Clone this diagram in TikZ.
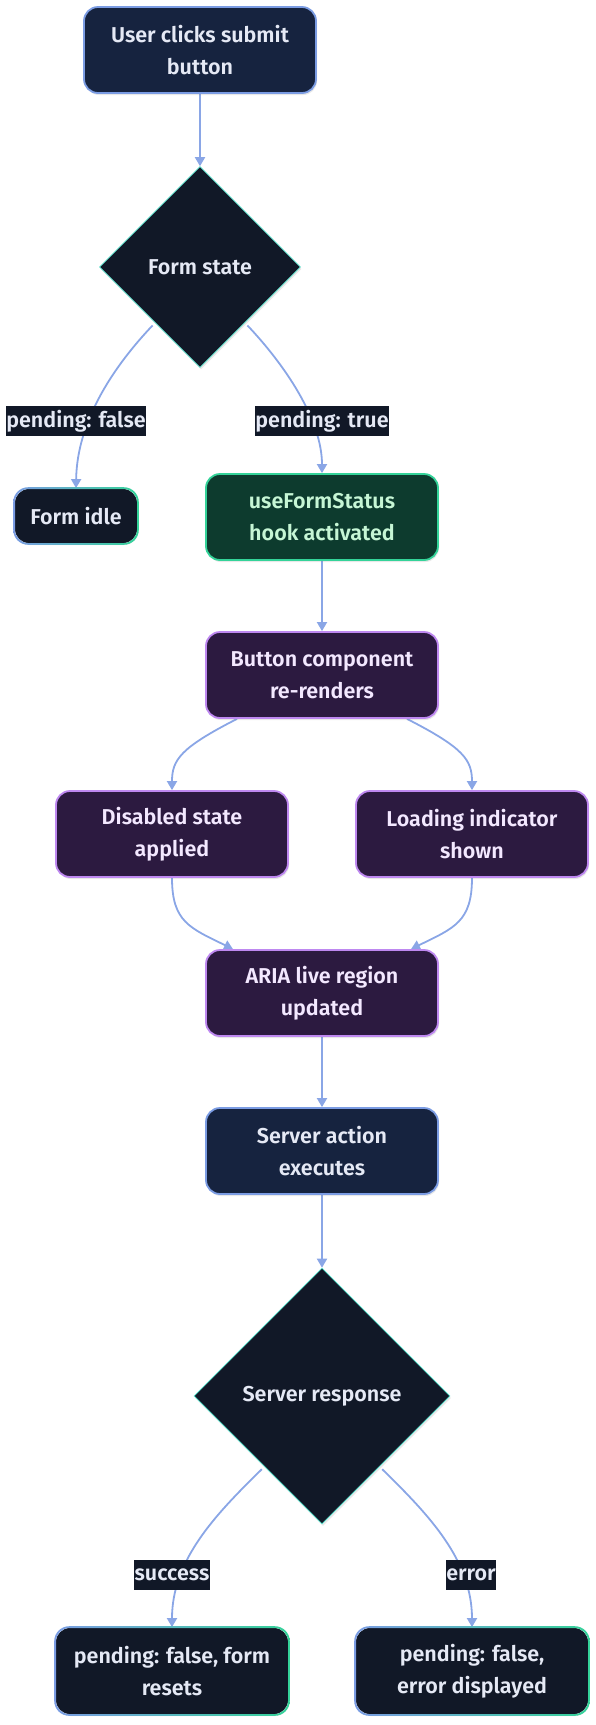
\documentclass[tikz,border=0pt]{standalone}
\usepackage{fontspec}
\setmainfont{Fira Sans}[UprightFont={* SemiBold},BoldFont={* Bold}]
\usetikzlibrary{shapes.geometric,arrows.meta,shadows}
\definecolor{edgec}{HTML}{8AA6E6}
\definecolor{navy}{HTML}{16233F}
\definecolor{bblue}{HTML}{7B9CE3}
\definecolor{dark}{HTML}{111827}
\definecolor{teal}{HTML}{5EEAD4}
\definecolor{bgreen}{HTML}{34D399}
\definecolor{gfill}{HTML}{0D3B2E}
\definecolor{gtext}{HTML}{C6F6D5}
\definecolor{pfill}{HTML}{2C1A40}
\definecolor{pborder}{HTML}{BE88F0}
\definecolor{ptext}{HTML}{F3E8FF}
\definecolor{ltext}{HTML}{E5E9F5}
\newcommand{\fsz}{\fontsize{21.5}{32}\selectfont}
\newcommand{\gradborder}[1]{%
  \shade[left color=bblue, right color=bgreen, even odd rule, rounded corners=15pt]
    ([shift={(-0.9pt,-0.9pt)}]#1.south west) rectangle ([shift={(0.9pt,0.9pt)}]#1.north east)
    [rounded corners=13.2pt]
    ([shift={(0.9pt,0.9pt)}]#1.south west) rectangle ([shift={(-0.9pt,-0.9pt)}]#1.north east);}
\pgfdeclarelayer{edges}
\pgfsetlayers{edges,main}
\tikzset{
  base/.style={rounded corners=14pt, minimum width=232pt, minimum height=86pt,
    align=center, line width=1.8pt, font=\fsz, inner sep=2pt,
    drop shadow={shadow xshift=1pt, shadow yshift=-2pt, opacity=0.18}},
  bluebox/.style={base, fill=navy, draw=bblue, text=ltext},
  greenbox/.style={base, fill=gfill, draw=bgreen, text=gtext},
  purplebox/.style={base, fill=pfill, draw=pborder, text=ptext},
  gradbox/.style={base, fill=dark, text=ltext},
  dia/.style={diamond, aspect=1, inner sep=0pt, fill=dark, draw=teal, line width=0.6pt,
    text=ltext, font=\fsz, drop shadow={shadow xshift=1pt, shadow yshift=-2pt, opacity=0.18}},
  lbl/.style={fill=dark, text=ltext, font=\fsz, inner sep=0.3pt, minimum height=30pt},
  edge/.style={draw=edgec, line width=1.8pt, -{Triangle[width=10pt,length=9pt]}},
}
\begin{document}
\begin{tikzpicture}[x=1pt,y=-1pt]
\useasboundingbox (0,0) rectangle (596,1725);
% nodes
\node[bluebox] (n1) at (200,50) {User clicks submit\\button};
\node[dia, minimum width=201pt, minimum height=201pt] (fs) at (200,267) {Form state};
\node[gradbox, minimum width=122pt, minimum height=54pt] (idle) at (76,516) {Form idle};
\node[greenbox] (ufs) at (322,517) {useFormStatus\\hook activated};
\node[purplebox] (bc) at (322,675) {Button component\\re-renders};
\node[purplebox] (dis) at (172,834) {Disabled state\\applied};
\node[purplebox] (load) at (472,834) {Loading indicator\\shown};
\node[purplebox] (aria) at (322,993) {ARIA live region\\updated};
\node[bluebox] (sa) at (322,1151) {Server action\\executes};
\node[dia, minimum width=256pt, minimum height=256pt] (sr) at (322,1396) {Server response};
\node[gradbox] (ok) at (172,1671) {pending: false, form\\resets};
\node[gradbox] (err) at (472,1671) {pending: false,\\error displayed};
\gradborder{idle}
\gradborder{ok}
\gradborder{err}
% labels
\node[lbl] (lf) at (76,421) {pending: false};
\node[lbl] (lt) at (322,421) {pending: true};
\node[lbl] (ls) at (172,1575) {success};
\node[lbl] (le) at (471,1575) {error};
% edges
\begin{pgfonlayer}{edges}
\draw[edge] (n1.south) -- (fs.north);
\draw[edge] ([shift={(3pt,-8pt)}]fs.south west) .. controls (115,365) and (77,420) .. (idle.north);
\draw[edge] ([shift={(-3pt,-8pt)}]fs.south east) .. controls (285,365) and (322,420) .. (ufs.north);
\draw[edge] (ufs.south) -- (bc.north);
\draw[edge] ([xshift=-85pt]bc.south) .. controls (180,748) and (172,760) .. (dis.north);
\draw[edge] ([xshift=85pt]bc.south) .. controls (464,748) and (472,760) .. (load.north);
\draw[edge] (dis.south) .. controls (172,922) and (190,928) .. ([xshift=-89pt]aria.north);
\draw[edge] (load.south) .. controls (472,922) and (454,928) .. ([xshift=89pt]aria.north);
\draw[edge] (aria.south) -- (sa.north);
\draw[edge] (sa.south) -- (sr.north);
\draw[edge] ([shift={(4pt,-9pt)}]sr.south west) .. controls (215,1515) and (172,1560) .. (ok.north);
\draw[edge] ([shift={(-4pt,-9pt)}]sr.south east) .. controls (429,1515) and (472,1560) .. (err.north);
\end{pgfonlayer}
\end{tikzpicture}
\end{document}
